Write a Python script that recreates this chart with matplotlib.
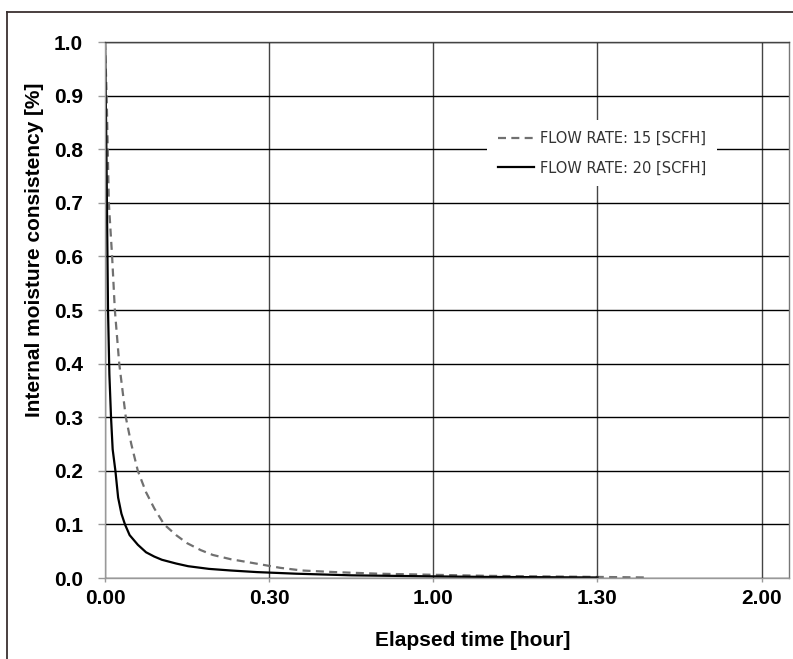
import matplotlib.pyplot as plt
from matplotlib.lines import Line2D

# elapsed time in minutes
t_15 = [0, 0.15, 0.3, 0.5, 0.7, 1.0, 1.3, 1.8, 2.2, 2.6, 3.2, 3.8, 4.8, 6.0, 7.5, 9,
        10.8, 13, 15, 17.5, 19.7, 23, 27, 32, 36, 42, 50, 60, 70, 80, 90, 99]
moist_15 = [1.0, 0.95, 0.9, 0.8, 0.7, 0.65, 0.6, 0.5, 0.45, 0.4, 0.35, 0.3, 0.25, 0.2, 0.16, 0.13,
            0.1, 0.08, 0.065, 0.052, 0.043, 0.035, 0.028, 0.019, 0.014, 0.011, 0.008, 0.006,
            0.004, 0.003, 0.002, 0.001]

t_20 = [0, 0.2, 0.4, 0.55, 0.8, 1.1, 1.4, 1.9, 2.4, 3.0, 3.65, 4.5, 6.0, 7.5, 9, 10.4, 13,
        15.2, 19, 23, 27.8, 35, 45, 60, 70, 80, 90]
moist_20 = [1.0, 0.85, 0.65, 0.5, 0.38, 0.3, 0.24, 0.2, 0.15, 0.12, 0.1, 0.08, 0.062, 0.048,
            0.04, 0.034, 0.027, 0.022, 0.017, 0.014, 0.011, 0.008, 0.005, 0.003, 0.002,
            0.0015, 0.001]

x_ticks = [0, 30, 60, 90, 120]
x_labels = ['0.00', '0.30', '1.00', '1.30', '2.00']
y_ticks = [0.0, 0.1, 0.2, 0.3, 0.4, 0.5, 0.6, 0.7, 0.8, 0.9, 1.0]

W, H = 793, 659
fig = plt.figure(figsize=(W / 100, H / 100), dpi=100)

# outer frame (top and left only)
fig.add_artist(Line2D([7 / W, 7 / W], [0, 1 - 12 / H], color='#3a3030', lw=1.3))
fig.add_artist(Line2D([7 / W, 1], [1 - 12 / H, 1 - 12 / H], color='#3a3030', lw=1.3))

ax = fig.add_axes([105 / W, 81 / H, 684 / W, 536 / H])

ax.plot(t_15, moist_15, color='#707070', lw=1.6, dashes=(3.6, 2.4), label='FLOW RATE: 15 [SCFH]')
ax.plot(t_20, moist_20, color='black', lw=1.6, label='FLOW RATE: 20 [SCFH]')

ax.set_xlim(0, 125)
ax.set_ylim(0, 1.0)
ax.set_xticks(x_ticks)
ax.set_xticklabels(x_labels)
ax.set_yticks(y_ticks)
ax.set_yticklabels([f'{v:.1f}' for v in y_ticks])

ax.grid(axis='y', color='black', lw=1.0)
ax.grid(axis='x', color='#444444', lw=1.0)
ax.set_axisbelow(True)

for s in ['left', 'bottom']:
    ax.spines[s].set_color('#999999')
ax.spines['right'].set_color('#777777')
ax.spines['top'].set_color('#444444')
for s in ax.spines.values():
    s.set_linewidth(1.0)

ax.tick_params(axis='y', length=5, width=1, color='#999999', pad=11)
ax.tick_params(axis='x', length=3, width=1, color='#999999', pad=5)
for lab in ax.get_xticklabels() + ax.get_yticklabels():
    lab.set_fontfamily('Liberation Sans')
    lab.set_fontweight('bold')
    lab.set_fontsize(15)

ax.set_ylabel('Internal moisture consistency [%]', fontfamily='Liberation Sans',
              fontweight='bold', fontsize=15)
ax.set_xlabel('Elapsed time [hour]', fontfamily='Liberation Sans',
              fontweight='bold', fontsize=15)
ax.yaxis.set_label_coords((44 - 105) / 684, (578 - 250) / 536)
ax.xaxis.set_label_coords((473 - 105) / 684, (578 - 631) / 536)

leg = ax.legend(loc='upper left', bbox_to_anchor=((487 - 105) / 684, (578 - 120) / 536),
                frameon=True, facecolor='white', edgecolor='none', framealpha=1, fancybox=False,
                handlelength=2.5, handletextpad=0.35, labelspacing=1.0, borderpad=0.75,
                borderaxespad=0, prop={'family': 'DejaVu Sans', 'size': 10.5})
for txt in leg.get_texts():
    txt.set_color('#333333')

fig.savefig('out.png', dpi=100)
